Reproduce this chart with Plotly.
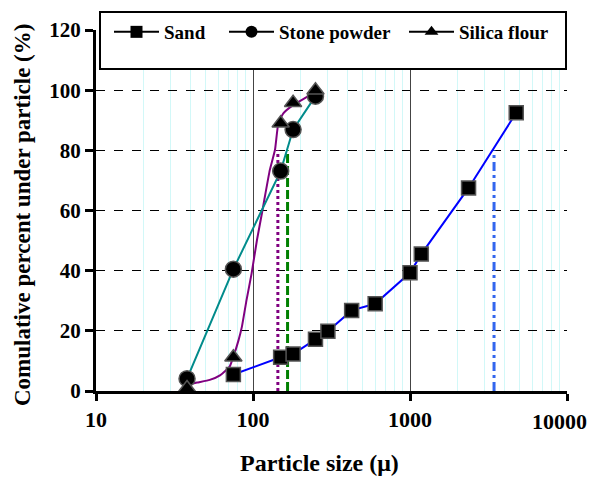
import math
import plotly.graph_objects as go

# ---------------- data ----------------
sand_size = [75, 150, 180, 250, 300, 425, 600, 1000, 1180, 2360, 4750]
sand_pass = [5.5, 11.2, 12.3, 17.2, 19.9, 26.8, 29.0, 39.3, 45.5, 67.5, 92.5]

stone_size = [38, 75, 150, 180, 250]
stone_pass = [4.1, 40.5, 73.1, 86.9, 98.0]

silica_size = [38, 75, 150, 180, 250]
silica_pass = [1.0, 11.2, 89.0, 95.8, 100.0]

# smoothed curve drawn through the silica flour points
silica_curve_size = [38, 44, 53, 62, 71, 75, 81, 85, 91, 98, 106, 114, 118, 128, 138, 145, 156, 181, 231, 245]
silica_curve_pass = [2.0, 2.8, 3.7, 5.3, 8.1, 11.4, 17.0, 21.4, 30.3, 39.1, 50.2, 59.1, 63.5, 73.5, 80.1, 89.0, 92.3, 95.1, 98.4, 99.5]

# D80 marker lines
d80_silica = 144
d80_stone = 166
d80_sand = 3430
d80_level = 80

x_ticks = [10, 100, 1000, 10000]
x_ticktext = ["10", "100", "1000", ""]
x_last_tick = 10000
x_last_label = "10000"
y_ticks = [0, 20, 40, 60, 80, 100, 120]

FONT = "Liberation Serif"

fig = go.Figure()

# D80 vertical reference lines
fig.add_trace(go.Scatter(x=[d80_silica, d80_silica], y=[0, d80_level], mode="lines",
                         line=dict(color="#800080", width=3, dash="3px,3px"),
                         showlegend=False, hoverinfo="skip"))
fig.add_trace(go.Scatter(x=[d80_stone, d80_stone], y=[0, d80_level], mode="lines",
                         line=dict(color="#008000", width=3, dash="9px,3px"),
                         showlegend=False, hoverinfo="skip"))
fig.add_trace(go.Scatter(x=[d80_sand, d80_sand], y=[0, d80_level], mode="lines",
                         line=dict(color="#3366ee", width=3, dash="9px,4px,3px,4px"),
                         showlegend=False, hoverinfo="skip"))

# curves
fig.add_trace(go.Scatter(x=silica_curve_size, y=silica_curve_pass, mode="lines",
                         line=dict(color="#800080", width=2, shape="spline", smoothing=0.4),
                         showlegend=False, hoverinfo="skip"))
fig.add_trace(go.Scatter(x=stone_size, y=stone_pass, mode="lines",
                         line=dict(color="#008b8b", width=2),
                         showlegend=False, hoverinfo="skip"))
fig.add_trace(go.Scatter(x=sand_size, y=sand_pass, mode="lines",
                         line=dict(color="#0000ff", width=2),
                         showlegend=False, hoverinfo="skip"))

mk_line = dict(color="#555555", width=1.5)
fig.add_trace(go.Scatter(x=sand_size, y=sand_pass, mode="markers", cliponaxis=False,
                         marker=dict(symbol="square", size=14, color="black", line=mk_line),
                         showlegend=False))
fig.add_trace(go.Scatter(x=stone_size, y=stone_pass, mode="markers", cliponaxis=False,
                         marker=dict(symbol="circle", size=16, color="black", line=mk_line),
                         showlegend=False))
fig.add_trace(go.Scatter(x=silica_size, y=silica_pass, mode="markers", cliponaxis=False,
                         marker=dict(symbol="triangle-up", size=15, color="black", line=mk_line),
                         showlegend=False))

# legend entries (black line + marker)
for name, sym, lg in [("Sand", "square", "legend"),
                      ("Stone powder", "circle", "legend2"),
                      ("Silica flour", "triangle-up", "legend3")]:
    fig.add_trace(go.Scatter(x=[None], y=[None], mode="lines+markers", name=name,
                             line=dict(color="black", width=2),
                             marker=dict(symbol=sym, size=12, color="black"),
                             legend=lg))

# dummy trace for the overlay axis carrying the dark major gridlines
fig.add_trace(go.Scatter(x=[None], y=[None], xaxis="x2", showlegend=False, hoverinfo="skip"))

legfont = dict(family=FONT, size=19, color="black", weight="bold")
# page offset compensation (rendered page is shifted by body margin)
L, R, T, B = 88, 38, 22, 106
PL, PT, PW, PH = 96, 30, 471, 361   # plot area in screenshot pixels

def lx(px):
    return (px - PL) / PW

def ly(py):
    return (PT + PH - py) / PH

leg_common = dict(orientation="h", xanchor="left", yanchor="middle", y=ly(32),
                  bgcolor="rgba(0,0,0,0)", font=legfont, itemwidth=45)

tickfont = dict(family=FONT, size=22, color="black", weight="bold")

fig.update_layout(
    width=597, height=489, autosize=False,
    margin=dict(l=L, r=R, t=T, b=B, autoexpand=False),
    font=dict(family=FONT, color="black"),
    paper_bgcolor="white", plot_bgcolor="white",
    legend=dict(x=lx(109), **leg_common),
    legend2=dict(x=lx(224), **leg_common),
    legend3=dict(x=lx(404), **leg_common),
    xaxis=dict(type="log", range=[1, 4], tickmode="array", tickvals=x_ticks, ticktext=x_ticktext,
               showline=True, linecolor="black", linewidth=3,
               ticks="outside", ticklen=7, tickwidth=3, tickcolor="black",
               tickfont=tickfont, ticklabeloverflow="allow",
               showgrid=True, gridcolor="#dddddd", gridwidth=1, automargin=False,
               minor=dict(tickmode="array",
                          tickvals=[m * 10 ** e for e in (1, 2, 3) for m in range(2, 10)],
                          showgrid=True, gridcolor="#d2f8f8", gridwidth=1, ticks=""),
               zeroline=False),
    xaxis2=dict(type="log", range=[1, 4], overlaying="x", anchor="y",
                tickmode="array", tickvals=[100, 1000], showticklabels=False, ticks="",
                showgrid=True, gridcolor="#444444", gridwidth=1, showline=False, zeroline=False),
    yaxis=dict(range=[0, 120], tickmode="array", tickvals=y_ticks,
               showline=True, linecolor="black", linewidth=3,
               ticks="outside", ticklen=8, tickwidth=3, tickcolor="black",
               tickfont=dict(family=FONT, size=21, color="black", weight="bold"),
               ticklabeloverflow="allow",
               showgrid=True, gridcolor="black", gridwidth=1, griddash="dash",
               zeroline=False, automargin=False),
    shapes=[dict(type="rect", xref="paper", yref="paper",
                 x0=lx(100), x1=lx(566), y0=ly(69), y1=ly(12),
                 line=dict(color="black", width=2), fillcolor="white", layer="above")],
    annotations=[
        dict(text=x_last_label, xref="x", yref="paper", x=math.log10(x_last_tick),
             y=ly(421), xshift=-8, showarrow=False, xanchor="center", yanchor="middle",
             font=tickfont),
        dict(text="Comulative percent under particle (%)", xref="paper", yref="paper",
             x=lx(22), y=ly(215), textangle=-90, showarrow=False,
             xanchor="center", yanchor="middle",
             font=dict(family=FONT, size=23, color="black", weight="bold")),
        dict(text="Particle size (\u03bc)", xref="paper", yref="paper",
             x=lx(319), y=ly(463), showarrow=False,
             xanchor="center", yanchor="middle",
             font=dict(family=FONT, size=24, color="black", weight="bold")),
    ],
)

fig.write_html("out.html")
